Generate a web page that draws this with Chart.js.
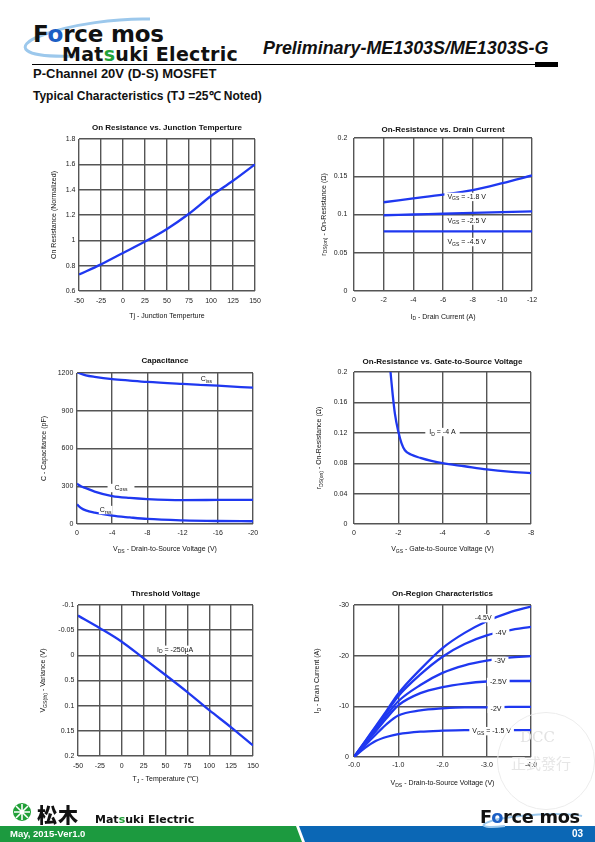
<!DOCTYPE html>
<html>
<head>
<meta charset="utf-8">
<script src="https://cdn.jsdelivr.net/npm/chart.js@4.4.1/dist/chart.umd.min.js"></script>
<style>
body{margin:0;width:595px;height:842px;position:relative;background:#fff;overflow:hidden;font-family:"Liberation Sans",Arial,sans-serif;color:#111}
.abs{position:absolute;white-space:nowrap}
canvas{position:absolute}
.logo{font-family:"DejaVu Sans",sans-serif;font-weight:bold}
</style>
</head>
<body>

<!-- header -->
<svg class="abs" style="left:0;top:0" width="300" height="70">
  <path d="M75 56 C 20 58, 14 46, 40 36 C 70 24, 120 18, 150 19" fill="none" stroke="#9cc8ec" stroke-width="3"/>
</svg>
<div class="abs logo" style="left:33px;top:21px;font-size:23px;letter-spacing:-0.2px">F<span style="color:#1c5fc4">o</span>rce mos</div>
<div class="abs logo" style="left:62px;top:43px;font-size:19px;letter-spacing:0.3px">Mat<span style="color:#21a038">s</span>uki Electric</div>
<div class="abs" style="left:263px;top:38px;font-size:17.9px;font-weight:bold;font-style:italic">Preliminary-ME1303S/ME1303S-G</div>
<div class="abs" style="left:32px;top:64px;width:503px;height:1px;background:#000"></div>
<div class="abs" style="left:535px;top:62px;width:23px;height:5px;background:#000"></div>
<div class="abs" style="left:33px;top:66px;font-size:13px;font-weight:bold">P-Channel 20V (D-S) MOSFET</div>
<div class="abs" style="left:33px;top:87px;font-size:12px;font-weight:bold">Typical Characteristics (TJ =25℃ Noted)</div>

<canvas id="c1"></canvas>
<canvas id="c2"></canvas>
<canvas id="c3"></canvas>
<canvas id="c4"></canvas>
<canvas id="c5"></canvas>
<canvas id="c6"></canvas>

<!-- watermark -->
<div class="abs" style="left:497px;top:712px;width:96px;height:96px;border-radius:50%;border:1px solid #ececec"></div>
<div class="abs" style="left:520px;top:728px;font:15px 'DejaVu Serif',serif;color:#e2e2e2">DCC</div>
<div class="abs" style="left:511px;top:752px;font:15px 'Noto Sans CJK TC',sans-serif;color:#e6e6e6">正式發行</div>

<!-- footer -->
<svg class="abs" style="left:0;top:800px" width="595" height="42">
  <circle cx="22" cy="12" r="9" fill="#21a038"/>
  <path d="M22 4 V20 M14 12 H30 M16 6 L28 18 M28 6 L16 18" stroke="#fff" stroke-width="1.6"/>
  <path d="M0 26 H296 L302 42 H0 Z" fill="#1c9a3f"/>
  <path d="M299 26 H595 V42 H305 Z" fill="#0b67b5"/>
  <path d="M505 26 C 470 30, 480 20, 520 16 C 550 13, 575 14, 582 16" fill="none" stroke="#9cc8ec" stroke-width="2"/>
</svg>
<div class="abs" style="left:37px;top:800px;font:900 20px 'Noto Sans CJK JP',sans-serif;letter-spacing:1px">松木</div>
<div class="abs logo" style="left:95px;top:813px;font-size:11px">Mat<span style="color:#21a038">s</span>uki Electric</div>
<div class="abs logo" style="left:480px;top:806px;font-size:17.8px;letter-spacing:-0.3px">F<span style="color:#1c5fc4">o</span>rce mos</div>
<div class="abs" style="left:10px;top:828px;font-size:9.5px;font-weight:bold;color:#fff">May, 2015-Ver1.0</div>
<div class="abs" style="left:572px;top:828px;font-size:10px;font-weight:bold;color:#fff">03</div>

<script>
// ---- On Resistance vs. Junction Temperture
var tjTemp = [-50, -25, 0, 25, 50, 75, 100, 125, 150];
var rdsNorm = [0.73, 0.81, 0.90, 0.99, 1.09, 1.21, 1.35, 1.47, 1.60];
var tempTicks = ['-50', '-25', '0', '25', '50', '75', '100', '125', '150'];
var rdsNormTicks = ['0.6', '0.8', '1', '1.2', '1.4', '1.6', '1.8'];

// ---- On-Resistance vs. Drain Current
var idCurrent = [-2, -4, -6, -8, -10, -12];
var rdsVgs18 = [0.116, 0.121, 0.126, 0.132, 0.141, 0.151];
var rdsVgs25 = [0.099, 0.100, 0.101, 0.102, 0.103, 0.104];
var rdsVgs45 = [0.078, 0.078, 0.078, 0.078, 0.078, 0.078];
var idTicks = ['-12', '-10', '-8', '-6', '-4', '-2', '0'];
var rds02Ticks = ['0', '0.05', '0.1', '0.15', '0.2'];

// ---- Capacitance
var vdsCap = [0, -0.5, -1, -2, -4, -6, -8, -12, -16, -20];
var ciss = [1208, 1192, 1182, 1170, 1152, 1140, 1129, 1113, 1099, 1083];
var coss = [320, 298, 285, 258, 222, 207, 198, 190, 191, 192];
var crss = [155, 125, 108, 90, 66, 52, 40, 29, 24, 22];
var vdsCapTicks = ['-20', '-16', '-12', '-8', '-4', '0'];
var capTicks = ['0', '300', '600', '900', '1200'];

// ---- On-Resistance vs. Gate-to-Source Voltage
var vgsGate = [-1.65, -1.75, -1.85, -2.0, -2.15, -2.3, -2.6, -3, -3.5, -4, -5, -6, -7, -8];
var rdsId4 = [0.200, 0.170, 0.145, 0.122, 0.106, 0.097, 0.091, 0.087, 0.083, 0.080, 0.076, 0.072, 0.069, 0.067];
var vgsTicks = ['-8', '-6', '-4', '-2', '0'];
var rds04Ticks = ['0', '0.04', '0.08', '0.12', '0.16', '0.2'];

// ---- Threshold Voltage
var tjVth = [-50, -25, 0, 25, 50, 75, 100, 125, 150];
var vthVar = [-0.079, -0.054, -0.027, 0.006, 0.039, 0.073, 0.109, 0.143, 0.179];
var vthTicks = ['-0.1', '-0.05', '0', '0.5', '0.1', '0.15', '0.2'];

// ---- On-Region Characteristics
var vdsOn = [0, -0.25, -0.5, -0.75, -1, -1.5, -2, -2.5, -3, -3.5, -4];
var idVgs15 = [0, -1.8, -3.2, -4.0, -4.5, -5.0, -5.2, -5.3, -5.3, -5.3, -5.3];
var idVgs20 = [0, -2.3, -4.5, -6.6, -8.2, -9.2, -9.6, -9.8, -9.8, -9.9, -9.9];
var idVgs25 = [0, -2.6, -5.2, -7.8, -10.2, -12.6, -13.8, -14.5, -14.9, -15.0, -15.0];
var idVgs30 = [0, -2.8, -5.6, -8.4, -11.0, -14.2, -16.6, -18.1, -19.0, -19.6, -19.9];
var idVgs40 = [0, -3.0, -6.0, -9.0, -12.0, -16.3, -19.8, -22.3, -24.0, -25.0, -25.7];
var idVgs45 = [0, -3.1, -6.2, -9.3, -12.5, -17.3, -21.5, -24.5, -26.8, -28.5, -29.7];
var vdsOnTicks = ['-4.0', '-3.0', '-2.0', '-1.0', '-0.0'];
var idOnTicks = ['-30', '-20', '-10', '0'];

var FONT = '"Liberation Sans", Arial, sans-serif';
var BLUE = '#1f38f0';
var GRID = '#555';

// 아래첨자 _{..} 처리하는 텍스트
function drawRich(ctx, text, x, y, size, o) {
    o = o || {};
    var parts = text.split(/(_\{[^}]*\})/).filter(function (p) { return p !== ''; });
    var segs = parts.map(function (p) {
        var sub = p.indexOf('_{') === 0;
        var s = sub ? p.slice(2, -1) : p;
        var fs = sub ? size * 0.72 : size;
        ctx.font = (o.bold ? 'bold ' : '') + fs + 'px ' + FONT;
        return { s: s, sub: sub, fs: fs, w: ctx.measureText(s).width };
    });
    var total = segs.reduce(function (t, g) { return t + g.w; }, 0);
    ctx.save();
    ctx.translate(x, y);
    if (o.rotate) ctx.rotate(o.rotate);
    if (o.bg) {
        var pad = o.pad || 3;
        ctx.fillStyle = '#fff';
        ctx.fillRect(-total / 2 - pad, -size * 0.6, total + pad * 2, size * 1.2);
    }
    ctx.fillStyle = '#111';
    ctx.textBaseline = 'middle';
    ctx.textAlign = 'left';
    var cx = -total / 2;
    segs.forEach(function (g) {
        ctx.font = (o.bold ? 'bold ' : '') + g.fs + 'px ' + FONT;
        ctx.fillText(g.s, cx, g.sub ? size * 0.3 : 0);
        cx += g.w;
    });
    ctx.restore();
}

var notesPlugin = {
    id: 'notes',
    afterDatasetsDraw: function (chart, args, opts) {
        var ctx = chart.ctx;
        (opts.labels || []).forEach(function (l) {
            var x = chart.scales.x.getPixelForValue(l.x);
            var y = chart.scales.y.getPixelForValue(l.y);
            drawRich(ctx, l.text, x, y, 7, { bg: true, pad: l.pad });
        });
    },
    afterDraw: function (chart, args, opts) {
        var ctx = chart.ctx, a = chart.chartArea;
        var cx = (a.left + a.right) / 2, cy = (a.top + a.bottom) / 2;
        drawRich(ctx, opts.title, cx, a.top - opts.titleOff, 8, { bold: true });
        drawRich(ctx, opts.xTitle, cx, a.bottom + opts.xOff, 7);
        drawRich(ctx, opts.yTitle, a.left - opts.yOff, cy, 7, { rotate: -Math.PI / 2 });
    }
};

// labels : 값 오름차순 순서
function axis(min, max, step, labels, reverse, pad, fit) {
    return {
        type: 'linear', min: min, max: max, reverse: reverse,
        ticks: {
            stepSize: step, autoSkip: false, maxRotation: 0, color: '#222', padding: pad,
            font: { size: 7, family: FONT, lineHeight: 1.2 },
            callback: function (v) { return labels[Math.round((v - min) / step)]; }
        },
        grid: { color: GRID, lineWidth: 1.4, drawTicks: false },
        border: { display: false },
        afterFit: function (s) {
            if (s.isHorizontal()) s.height = fit; else s.width = fit;
        }
    };
}

// box, plot : [left, top, right, bottom] (page px)
function buildChart(id, box, plot, o) {
    var cv = document.getElementById(id);
    var w = box[2] - box[0], h = box[3] - box[1];
    cv.width = w; cv.height = h;
    cv.style.left = box[0] + 'px'; cv.style.top = box[1] + 'px';
    cv.style.width = w + 'px'; cv.style.height = h + 'px';
    var xs = o.x, ys = o.y;
    return new Chart(cv, {
        type: 'line',
        data: {
            datasets: o.series.map(function (s) {
                return {
                    data: s[0].map(function (x, i) { return { x: x, y: s[1][i] }; }),
                    borderColor: BLUE, borderWidth: 2.3, pointRadius: 0,
                    cubicInterpolationMode: 'monotone', fill: false
                };
            })
        },
        options: {
            responsive: false, animation: false, events: [],
            layout: { padding: { left: 0, top: plot[1] - box[1], right: box[2] - plot[2], bottom: 0 } },
            plugins: {
                legend: { display: false }, tooltip: { enabled: false },
                notes: o.notes
            },
            scales: {
                x: axis(xs[0], xs[1], xs[2], xs[3], xs[4], xs[5], box[3] - plot[3]),
                y: axis(ys[0], ys[1], ys[2], ys[3], ys[4], ys[5], plot[0] - box[0])
            }
        },
        plugins: [notesPlugin]
    });
}

buildChart('c1', [35, 118, 270, 325], [79, 139, 255, 291], {
    series: [[tjTemp, rdsNorm]],
    x: [-50, 150, 25, tempTicks, false, 5.5],
    y: [0.6, 1.8, 0.2, rdsNormTicks, false, 3.5],
    notes: { title: 'On Resistance vs. Junction Temperture', titleOff: 11,
        xTitle: 'Tj - Junction Temperture', xOff: 24.7,
        yTitle: 'On Resistance (Normalized)', yOff: 25 }
});

buildChart('c2', [305, 118, 560, 325], [354, 138, 532, 291], {
    series: [[idCurrent, rdsVgs18], [idCurrent, rdsVgs25], [idCurrent, rdsVgs45]],
    x: [-12, 0, 2, idTicks, true, 5],
    y: [0, 0.2, 0.05, rds02Ticks, false, 6.7],
    notes: { title: 'On-Resistance vs. Drain Current', titleOff: 8.7,
        xTitle: 'I_{D} - Drain Current (A)', xOff: 25.7,
        yTitle: 'r_{DS(on)} - On-Resistance (Ω)', yOff: 30,
        labels: [
            { text: 'V_{GS} = -1.8 V', x: -7.6, y: 0.123 },
            { text: 'V_{GS} = -2.5 V', x: -7.6, y: 0.092 },
            { text: 'V_{GS} = -4.5 V', x: -7.6, y: 0.064 }
        ] }
});

buildChart('c3', [35, 352, 270, 560], [77, 373, 253, 524], {
    series: [[vdsCap, ciss], [vdsCap, coss], [vdsCap, crss]],
    x: [-20, 0, 4, vdsCapTicks, true, 4.5],
    y: [0, 1200, 300, capTicks, false, 3.7],
    notes: { title: 'Capacitance', titleOff: 12,
        xTitle: 'V_{DS} - Drain-to-Source Voltage (V)', xOff: 25.3,
        yTitle: 'C - Capacitance (pF)', yOff: 33,
        labels: [
            { text: 'C_{iss}', x: -14.7, y: 1150, pad: 1 },
            { text: 'C_{oss}', x: -5.0, y: 286, pad: 7 },
            { text: 'C_{rss}', x: -3.26, y: 111, pad: 1 }
        ] }
});

buildChart('c4', [305, 352, 560, 560], [354, 372, 531, 524], {
    series: [[vgsGate, rdsId4]],
    x: [-8, 0, 2, vgsTicks, true, 4.5],
    y: [0, 0.2, 0.04, rds04Ticks, false, 6.7],
    notes: { title: 'On-Resistance vs. Gate-to-Source Voltage', titleOff: 10.3,
        xTitle: 'V_{GS} - Gate-to-Source Voltage (V)', xOff: 25.3,
        yTitle: 'r_{DS(on)} - On-Resistance (Ω)', yOff: 34.7,
        labels: [{ text: 'I_{D} = -4 A', x: -4.0, y: 0.121, pad: 4 }] }
});

buildChart('c5', [35, 584, 270, 792], [78, 605, 253, 756], {
    series: [[tjVth, vthVar]],
    x: [-50, 150, 25, tempTicks, false, 5.8],
    y: [-0.1, 0.2, 0.05, vthTicks, true, 3.7],
    notes: { title: 'Threshold Voltage', titleOff: 11.3,
        xTitle: 'T_{J} - Temperature (℃)', xOff: 23.3,
        yTitle: 'V_{GS(th)} - Variance (V)', yOff: 34.7,
        labels: [{ text: 'I_{D} = -250μA', x: 61, y: -0.011, pad: 4 }] }
});

buildChart('c6', [305, 584, 560, 795], [354, 605, 531, 757], {
    series: [[vdsOn, idVgs15], [vdsOn, idVgs20], [vdsOn, idVgs25], [vdsOn, idVgs30], [vdsOn, idVgs40], [vdsOn, idVgs45]],
    x: [-4, 0, 1, vdsOnTicks, true, 4.1],
    y: [-30, 0, 10, idOnTicks, true, 5],
    notes: { title: 'On-Region Characteristics', titleOff: 11.7,
        xTitle: 'V_{DS} - Drain-to-Source Voltage (V)', xOff: 26.3,
        yTitle: 'I_{D} - Drain Current (A)', yOff: 36.7,
        labels: [
            { text: '-4.5V', x: -2.92, y: -27.4 },
            { text: '-4V', x: -3.32, y: -24.5 },
            { text: '-3V', x: -3.30, y: -18.9 },
            { text: '-2.5V', x: -3.26, y: -14.8 },
            { text: '-2V', x: -3.21, y: -9.5 },
            { text: 'V_{GS} = -1.5 V', x: -3.11, y: -5.1 }
        ] }
});
</script>
</body>
</html>
